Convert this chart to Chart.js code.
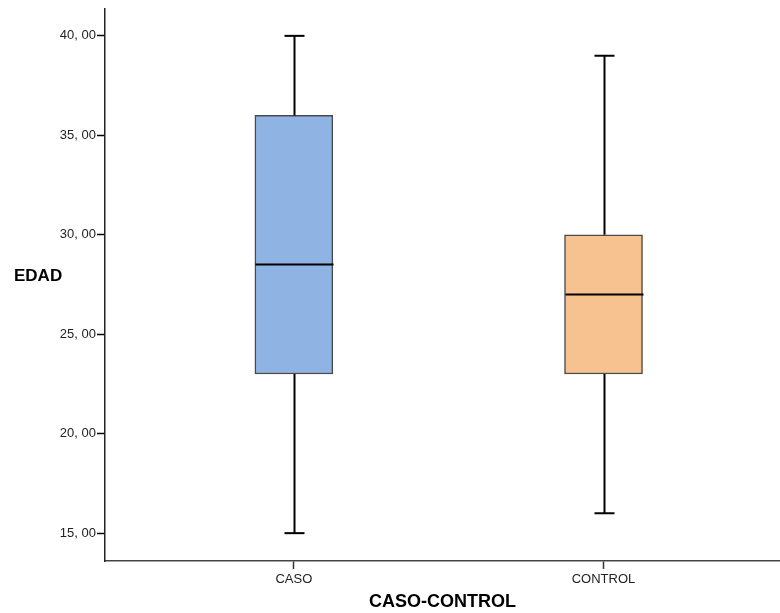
<!DOCTYPE html>
<html>
<head>
<meta charset="utf-8">
<script src="https://cdn.jsdelivr.net/npm/chart.js@4"></script>
<style>
  body { margin: 0; background: #fff; }
  #wrap { position: relative; width: 780px; height: 613px; }
</style>
</head>
<body>
<div id="wrap"><canvas id="chart" width="780" height="613"></canvas></div>
<script>
// boxplot values
const categories = ["CASO", "CONTROL"];
const mins = [15, 16];
const q1 = [23, 23];
const medians = [28.5, 27];
const q3 = [36, 30];
const maxs = [40, 39];
const yTicks = [15, 20, 25, 30, 35, 40];

const boxColors = ["#8fb3e2", "#f8c190"];
const BOX_W = 78;
const CAP_W = 20;
const FONT = "'Liberation Sans', Arial, sans-serif";

// whiskers + median lines, drawn on top of the floating bars
const whiskerPlugin = {
  id: "whiskers",
  afterDatasetsDraw(chart) {
    const { ctx, scales } = chart;
    const x = scales.x, y = scales.y;
    ctx.save();
    ctx.strokeStyle = "#000";
    ctx.lineWidth = 2;
    categories.forEach((c, i) => {
      const cx = Math.round(x.getPixelForValue(i + 1)) + 0.5;
      const line = (x1, y1, x2, y2) => {
        ctx.beginPath();
        ctx.moveTo(x1, y1);
        ctx.lineTo(x2, y2);
        ctx.stroke();
      };
      // upper whisker
      line(cx, y.getPixelForValue(q3[i]), cx, y.getPixelForValue(maxs[i]));
      line(cx - CAP_W / 2, y.getPixelForValue(maxs[i]), cx + CAP_W / 2, y.getPixelForValue(maxs[i]));
      // lower whisker
      line(cx, y.getPixelForValue(q1[i]), cx, y.getPixelForValue(mins[i]));
      line(cx - CAP_W / 2, y.getPixelForValue(mins[i]), cx + CAP_W / 2, y.getPixelForValue(mins[i]));
      // median
      line(cx - BOX_W / 2, y.getPixelForValue(medians[i]), cx + BOX_W / 2, y.getPixelForValue(medians[i]));
    });
    ctx.restore();
  },
  afterDraw(chart) {
    // horizontal y title like SPSS
    const ctx = chart.ctx;
    ctx.save();
    ctx.font = "bold 17px " + FONT;
    ctx.fillStyle = "#000";
    ctx.textAlign = "left";
    ctx.textBaseline = "middle";
    ctx.fillText("EDAD", 14, 276);
    ctx.restore();
  }
};

const tickFont = { family: FONT, size: 13 };

new Chart(document.getElementById("chart"), {
  type: "bar",
  data: {
    datasets: [
      {
        data: categories.map((c, i) => ({ x: i + 1, y: [q1[i], q3[i]] })),
        backgroundColor: boxColors,
        borderColor: "#4a4a4a",
        borderWidth: 1.5,
        borderSkipped: false,
        barThickness: BOX_W,
      },
    ],
  },
  options: {
    responsive: false,
    animation: false,
    layout: { padding: { top: 8, right: 0, left: 0, bottom: 0 } },
    plugins: {
      legend: { display: false },
      tooltip: { enabled: false },
    },
    scales: {
      x: {
        type: "linear",
        offset: false,
        min: 0.39,
        max: 2.57,
        afterBuildTicks: (scale) => {
          scale.ticks = categories.map((c, i) => ({ value: i + 1 }));
        },
        afterFit: (scale) => {
          scale.height = 52;
        },
        grid: {
          offset: false,
          drawOnChartArea: false,
          tickLength: 8,
          tickColor: "#333",
          tickWidth: 1.5,
        },
        border: { display: true, color: "#444", width: 1.5 },
        ticks: {
          color: "#222",
          font: tickFont,
          padding: 3,
          maxRotation: 0,
          callback: (v) => categories[v - 1],
        },
        title: {
          display: true,
          text: "CASO-CONTROL",
          color: "#000",
          font: { family: FONT, size: 18, weight: "bold" },
          padding: { top: 0, bottom: 0 },
        },
      },
      y: {
        min: 13.6,
        max: 41.36,
        afterBuildTicks: (scale) => {
          scale.ticks = yTicks.map((v) => ({ value: v }));
        },
        afterFit: (scale) => {
          scale.width = 105;
        },
        grid: {
          drawOnChartArea: false,
          tickLength: 8,
          tickColor: "#000",
          tickWidth: 1.5,
        },
        border: { display: true, color: "#222", width: 1.5 },
        ticks: {
          color: "#222",
          font: tickFont,
          padding: 1,
          callback: (v) => v + ", 00",
        },
      },
    },
  },
  plugins: [whiskerPlugin],
});
</script>
</body>
</html>
